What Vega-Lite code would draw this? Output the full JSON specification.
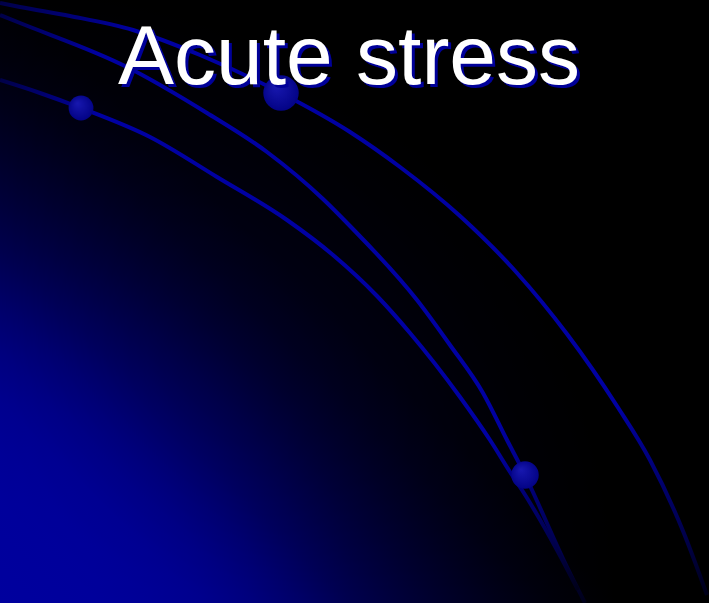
{
  "$schema": "https://vega.github.io/schema/vega-lite/v6.json",
  "width": 709,
  "height": 603,
  "autosize": {"type": "none"},
  "padding": 0,
  "background": "#000000",
  "config": {"view": {"stroke": null}},
  "datasets": {
    "bg": [{"x": 0, "x2": 709, "y": 0, "y2": 603}],
    "curves": [
      {"curve": "A", "x": 0, "y": 3}, {"curve": "A", "x": 20, "y": 7}, {"curve": "A", "x": 70, "y": 16},
      {"curve": "A", "x": 133, "y": 30}, {"curve": "A", "x": 200, "y": 55}, {"curve": "A", "x": 281, "y": 93},
      {"curve": "A", "x": 350, "y": 132}, {"curve": "A", "x": 400, "y": 167}, {"curve": "A", "x": 460, "y": 216},
      {"curve": "A", "x": 517, "y": 273}, {"curve": "A", "x": 567, "y": 334}, {"curve": "A", "x": 617, "y": 406},
      {"curve": "A", "x": 650, "y": 460}, {"curve": "A", "x": 683, "y": 531}, {"curve": "A", "x": 707, "y": 595},
      {"curve": "B", "x": 0, "y": 15}, {"curve": "B", "x": 20, "y": 23}, {"curve": "B", "x": 127, "y": 67},
      {"curve": "B", "x": 207, "y": 113}, {"curve": "B", "x": 267, "y": 152}, {"curve": "B", "x": 323, "y": 199},
      {"curve": "B", "x": 350, "y": 226}, {"curve": "B", "x": 417, "y": 300}, {"curve": "B", "x": 450, "y": 345},
      {"curve": "B", "x": 483, "y": 393}, {"curve": "B", "x": 507, "y": 440}, {"curve": "B", "x": 525, "y": 475},
      {"curve": "B", "x": 532, "y": 490}, {"curve": "B", "x": 567, "y": 567}, {"curve": "B", "x": 585, "y": 603},
      {"curve": "C", "x": 0, "y": 80}, {"curve": "C", "x": 40, "y": 93}, {"curve": "C", "x": 81, "y": 108},
      {"curve": "C", "x": 150, "y": 137}, {"curve": "C", "x": 217, "y": 177}, {"curve": "C", "x": 287, "y": 220},
      {"curve": "C", "x": 333, "y": 255}, {"curve": "C", "x": 377, "y": 296}, {"curve": "C", "x": 410, "y": 333},
      {"curve": "C", "x": 460, "y": 397}, {"curve": "C", "x": 490, "y": 440}, {"curve": "C", "x": 512, "y": 475},
      {"curve": "C", "x": 522, "y": 490}, {"curve": "C", "x": 557, "y": 550}, {"curve": "C", "x": 578, "y": 590}
    ],
    "dots": [
      {"x": 81, "y": 108, "r": 14},
      {"x": 281, "y": 93, "r": 20},
      {"x": 525, "y": 475, "r": 15.5}
    ],
    "title": [{"label": "Acute stress", "x": 349, "y": 84}]
  },
  "layer": [
    {
      "data": {"name": "bg"},
      "mark": {
        "type": "rect",
        "fill": {
          "gradient": "linear", "x1": 0, "y1": 1, "x2": 1, "y2": 0.15,
          "stops": [
            {"offset": 0, "color": "#00009e"},
            {"offset": 0.082, "color": "#00009b"},
            {"offset": 0.123, "color": "#000096"},
            {"offset": 0.164, "color": "#00008e"},
            {"offset": 0.205, "color": "#00007e"},
            {"offset": 0.246, "color": "#000068"},
            {"offset": 0.287, "color": "#00004e"},
            {"offset": 0.328, "color": "#00003a"},
            {"offset": 0.369, "color": "#000028"},
            {"offset": 0.41, "color": "#000018"},
            {"offset": 0.45, "color": "#00000b"},
            {"offset": 0.508, "color": "#000000"},
            {"offset": 1, "color": "#000000"}
          ]
        }
      },
      "encoding": {
        "x": {"field": "x", "type": "quantitative", "scale": {"domain": [0, 709], "nice": false, "zero": false}, "axis": null},
        "x2": {"field": "x2"},
        "y": {"field": "y", "type": "quantitative", "scale": {"domain": [0, 603], "nice": false, "zero": false, "reverse": true}, "axis": null},
        "y2": {"field": "y2"}
      }
    },
    {
      "data": {"name": "bg"},
      "mark": {
        "type": "rect",
        "opacity": 0.4,
        "fill": {
          "gradient": "radial", "x1": 0, "y1": 0.925, "r1": 0, "x2": 0, "y2": 0.925, "r2": 1,
          "stops": [
            {"offset": 0, "color": "#00009e"},
            {"offset": 0.141, "color": "#00009b"},
            {"offset": 0.212, "color": "#000096"},
            {"offset": 0.282, "color": "#00008e"},
            {"offset": 0.353, "color": "#00007e"},
            {"offset": 0.423, "color": "#000068"},
            {"offset": 0.494, "color": "#00004e"},
            {"offset": 0.564, "color": "#00003a"},
            {"offset": 0.635, "color": "#000028"},
            {"offset": 0.705, "color": "#000018"},
            {"offset": 0.776, "color": "#00000b"},
            {"offset": 0.874, "color": "#000000"},
            {"offset": 1, "color": "#000000"}
          ]
        }
      },
      "encoding": {
        "x": {"field": "x", "type": "quantitative"},
        "x2": {"field": "x2"},
        "y": {"field": "y", "type": "quantitative"},
        "y2": {"field": "y2"}
      }
    },
    {
      "data": {"name": "curves"},
      "mark": {
        "type": "line",
        "interpolate": "monotone",
        "strokeWidth": 4,
        "strokeJoin": "round",
        "stroke": {
          "gradient": "linear", "x1": 0, "y1": 0, "x2": 1, "y2": 1,
          "stops": [
            {"offset": 0, "color": "#000048"},
            {"offset": 0.12, "color": "#0000a2"},
            {"offset": 0.78, "color": "#0000a2"},
            {"offset": 0.94, "color": "#000048"},
            {"offset": 1, "color": "#000018"}
          ]
        }
      },
      "encoding": {
        "x": {"field": "x", "type": "quantitative"},
        "y": {"field": "y", "type": "quantitative"},
        "detail": {"field": "curve", "type": "nominal"}
      }
    },
    {
      "data": {"name": "dots"},
      "mark": {
        "type": "point",
        "shape": "circle",
        "filled": true,
        "opacity": 1,
        "fill": {
          "gradient": "radial", "x1": 0.35, "y1": 0.3, "r1": 0, "x2": 0.5, "y2": 0.5, "r2": 0.6,
          "stops": [
            {"offset": 0, "color": "#1818b0"},
            {"offset": 1, "color": "#000080"}
          ]
        }
      },
      "encoding": {
        "x": {"field": "x", "type": "quantitative"},
        "y": {"field": "y", "type": "quantitative"},
        "size": {"field": "r", "type": "quantitative", "scale": {"type": "pow", "exponent": 2, "domain": [0, 20], "range": [0, 1257]}, "legend": null}
      }
    },
    {
      "data": {"name": "title"},
      "mark": {"type": "text", "font": "Liberation Sans", "fontSize": 84, "color": "#000099", "dx": 3, "dy": 3, "align": "center", "baseline": "alphabetic"},
      "encoding": {
        "x": {"field": "x", "type": "quantitative"},
        "y": {"field": "y", "type": "quantitative"},
        "text": {"field": "label"}
      }
    },
    {
      "data": {"name": "title"},
      "mark": {"type": "text", "font": "Liberation Sans", "fontSize": 84, "color": "#ffffff", "align": "center", "baseline": "alphabetic"},
      "encoding": {
        "x": {"field": "x", "type": "quantitative"},
        "y": {"field": "y", "type": "quantitative"},
        "text": {"field": "label"}
      }
    }
  ]
}
